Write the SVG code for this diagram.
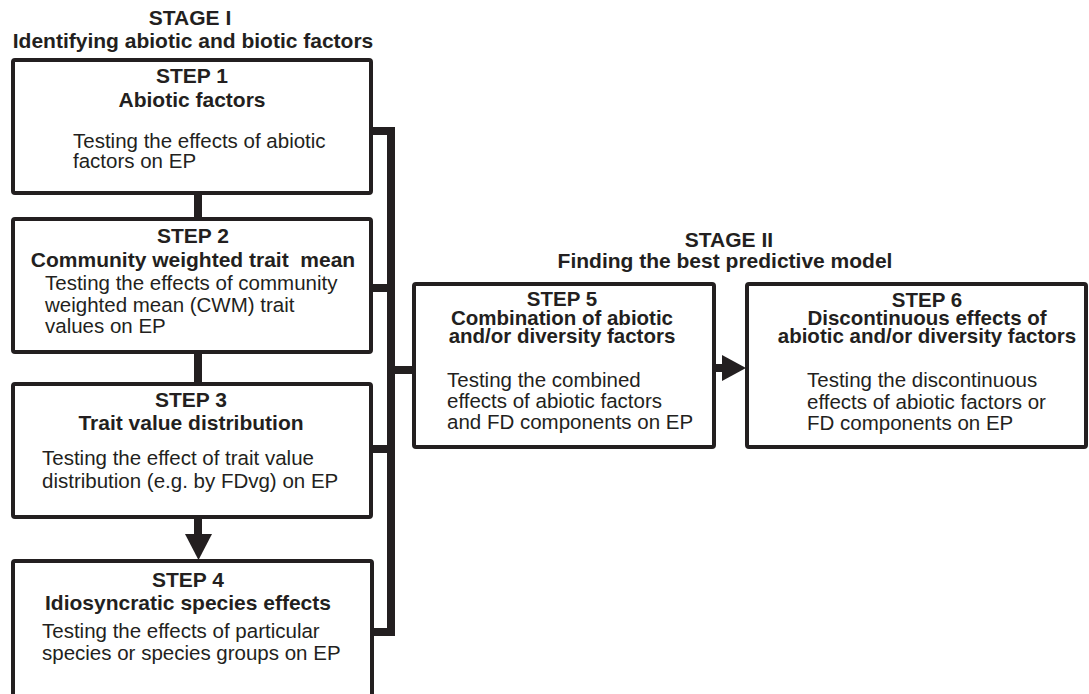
<svg xmlns="http://www.w3.org/2000/svg" width="1089" height="694" viewBox="0 0 1089 694">
<style>
  .box { fill: #ffffff; stroke: #231f20; stroke-width: 4; }
  .b { font-family: "Liberation Sans", Arial, sans-serif; font-weight: bold; font-size: 21px; fill: #231f20; text-anchor: middle; }
  .bs { font-family: "Liberation Sans", Arial, sans-serif; font-weight: bold; font-size: 20.5px; fill: #231f20; text-anchor: middle; }
  .r { font-family: "Liberation Sans", Arial, sans-serif; font-size: 20.5px; fill: #231f20; }
  .line { fill: none; stroke: #231f20; stroke-width: 8; stroke-linejoin: miter; stroke-linecap: butt; }
  .head { fill: #231f20; }
</style>
<rect width="1089" height="694" fill="#ffffff"/>
<g id="titles">
  <text class="b" x="190" y="25">STAGE I</text>
  <text class="b" x="193" y="48">Identifying abiotic and biotic factors</text>
  <text class="b" x="729" y="247">STAGE II</text>
  <text class="b" x="725" y="268">Finding the best predictive model</text>
</g>
<g id="connectors">
  <path class="line" d="M198 194 V219"/>
  <path class="line" d="M198 353 V384"/>
  <path class="line" d="M198 517 V537"/>
  <polygon class="head" points="185,534 212,534 198.5,560"/>
  <path class="line" d="M372 131 H391 V632 H372"/>
  <path class="line" d="M372 288 H391"/>
  <path class="line" d="M372 449 H391"/>
  <path class="line" d="M391 370 H414"/>
  <path class="line" d="M714 368 H725"/>
  <polygon class="head" points="722,355 722,381 746,368"/>
</g>
<g id="step1">
  <rect class="box" x="13" y="60" width="358" height="133" rx="2"/>
  <text class="b" x="192" y="83">STEP 1</text>
  <text class="b" x="192" y="107">Abiotic factors</text>
  <text class="r" x="73" y="148">Testing the effects of abiotic</text>
  <text class="r" x="73" y="168">factors on EP</text>
</g>
<g id="step2">
  <rect class="box" x="13" y="219" width="358" height="133" rx="2"/>
  <text class="b" x="193" y="243">STEP 2</text>
  <text class="b" x="193" y="267" xml:space="preserve">Community weighted trait  mean</text>
  <text class="r" x="45" y="290">Testing the effects of community</text>
  <text class="r" x="45" y="312">weighted mean (CWM) trait</text>
  <text class="r" x="45" y="333">values on EP</text>
</g>
<g id="step3">
  <rect class="box" x="13" y="384" width="358" height="133" rx="2"/>
  <text class="b" x="191" y="407">STEP 3</text>
  <text class="b" x="191" y="430">Trait value distribution</text>
  <text class="r" x="42" y="465">Testing the effect of trait value</text>
  <text class="r" x="42" y="488">distribution (e.g. by FDvg) on EP</text>
</g>
<g id="step4">
  <rect class="box" x="13" y="561" width="359" height="160" rx="2"/>
  <text class="b" x="188" y="587">STEP 4</text>
  <text class="b" x="188" y="610">Idiosyncratic species effects</text>
  <text class="r" x="42" y="638">Testing the effects of particular</text>
  <text class="r" x="42" y="660">species or species groups on EP</text>
</g>
<g id="step5">
  <rect class="box" x="414" y="284" width="300" height="163" rx="2"/>
  <text class="bs" x="562" y="306">STEP 5</text>
  <text class="bs" x="562" y="325">Combination of abiotic</text>
  <text class="bs" x="562" y="343">and/or diversity factors</text>
  <text class="r" x="447" y="387">Testing the combined</text>
  <text class="r" x="447" y="408">effects of abiotic factors</text>
  <text class="r" x="447" y="429">and FD components on EP</text>
</g>
<g id="step6">
  <rect class="box" x="747" y="284" width="339" height="163" rx="2"/>
  <text class="bs" x="927" y="307">STEP 6</text>
  <text class="bs" x="927" y="325">Discontinuous effects of</text>
  <text class="bs" x="927" y="343">abiotic and/or diversity factors</text>
  <text class="r" x="807" y="387">Testing the discontinuous</text>
  <text class="r" x="807" y="409">effects of abiotic factors or</text>
  <text class="r" x="807" y="430">FD components on EP</text>
</g>
</svg>
